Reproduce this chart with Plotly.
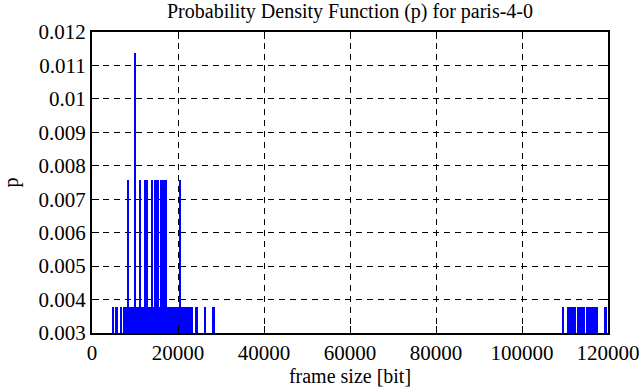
import plotly.graph_objects as go

# frame sizes [bit] and probabilities
sizes_p1 = [5000, 5800, 6800, 7600, 8000, 8700, 9100, 9500, 9900, 10400, 10800,
            11600, 12000, 12300, 13200, 13600, 14400, 15600, 16400, 17500,
            17900, 18300, 18700, 19100, 19500, 20100, 20900, 21300, 21700,
            22100, 22500, 22900, 23300, 24400, 26300, 28300,
            109600, 110900, 111600, 112300, 113200, 113600, 114000, 114400,
            115200, 115600, 116000, 116400, 116800, 117200, 117500, 119500]
sizes_p2 = [8370, 11190, 12510, 12860, 13960, 14800, 15270, 16120, 16700,
            17170, 20470]
sizes_p3 = [10030]

p1 = 0.003788
p2 = 0.007576
p3 = 0.011364

x_vals = sizes_p1 + sizes_p2 + sizes_p3
y_vals = [p1] * len(sizes_p1) + [p2] * len(sizes_p2) + [p3] * len(sizes_p3)

x_ticks = [0, 20000, 40000, 60000, 80000, 100000, 120000]
y_ticks = [0.003, 0.004, 0.005, 0.006, 0.007, 0.008, 0.009, 0.01, 0.011, 0.012]
y_ticktext = ["0.003", "0.004", "0.005", "0.006", "0.007", "0.008", "0.009",
              "0.01", "0.011", "0.012"]

font = "Liberation Serif, Times New Roman, Times, serif"
fnt = dict(family=font, size=20, color="black")
tfnt = dict(family=font, size=21, color="black")

fig = go.Figure(go.Bar(
    x=x_vals, y=y_vals, width=450,
    marker=dict(color="#0000ff", line=dict(width=0)),
))

fig.update_layout(
    width=641, height=387,
    margin=dict(l=92, r=33, t=32, b=54, autoexpand=False),
    paper_bgcolor="white", plot_bgcolor="white",
    font=fnt,
    title=dict(text="Probability Density Function (p) for paris-4-0",
               xref="paper", x=0.5, xanchor="center", y=0.972, yanchor="middle",
               font=fnt),
    showlegend=False, bargap=0,
)
axis_common = dict(
    showline=True, linewidth=2, linecolor="black", mirror="ticks",
    ticks="inside", ticklen=7, tickwidth=1, tickcolor="black",
    showgrid=True, gridcolor="black", gridwidth=1, griddash="6px,5px",
    zeroline=False, tickfont=tfnt, automargin=False,
)
fig.update_xaxes(range=[0, 120000], tickvals=x_ticks,
                 ticktext=[str(v) for v in x_ticks],
                 title=dict(text="frame size [bit]", standoff=0, font=fnt),
                 **axis_common)
fig.update_yaxes(range=[0.003, 0.012], tickvals=y_ticks, ticktext=y_ticktext,
                 title=dict(text="p", standoff=22, font=fnt), **axis_common)

fig.write_html("out.html",
               config={"displayModeBar": False},
               post_script="document.body.style.margin='0';document.body.style.padding='0';")
